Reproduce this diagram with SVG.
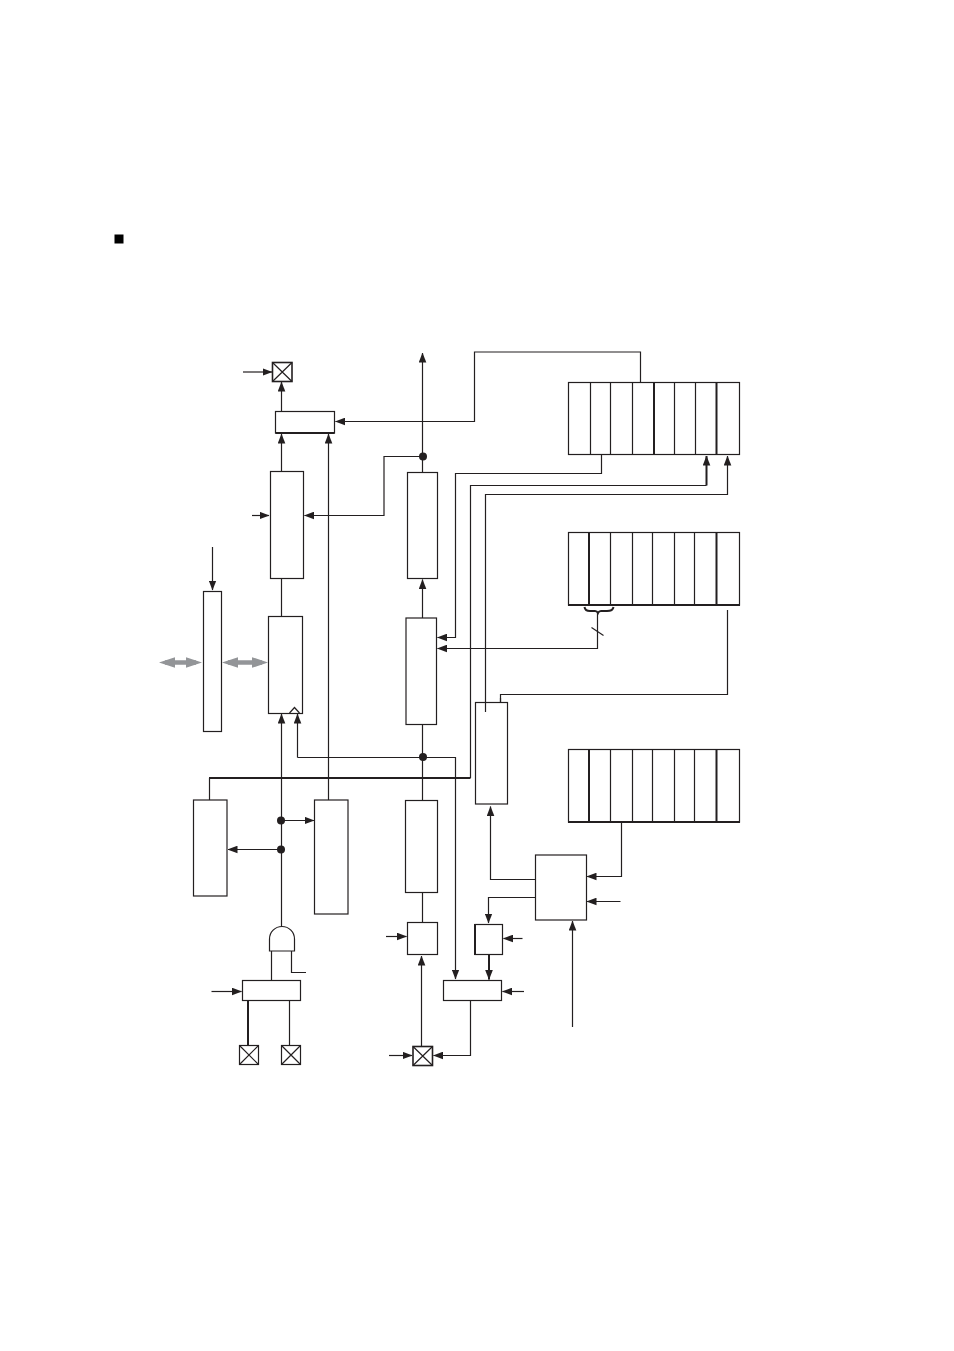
<svg xmlns="http://www.w3.org/2000/svg" width="954" height="1351" viewBox="0 0 954 1351">
<style>
.b{fill:#fff;stroke:#231f20;stroke-width:1.2}
.d{fill:none;stroke:#231f20;stroke-width:1.2}
.t{fill:none;stroke:#231f20;stroke-width:2}
.c{fill:none;stroke:#231f20;stroke-width:1.2;marker-end:url(#a)}
.e{fill:none;stroke:#231f20;stroke-width:2;marker-end:url(#a)}
.g{fill:none;stroke:#939598;stroke-width:4.500;marker-start:url(#h);marker-end:url(#h)}
.n{fill:#231f20}
</style>
<defs>
<marker id="a" markerUnits="userSpaceOnUse" markerWidth="10" markerHeight="8" refX="9.500" refY="4" orient="auto"><path d="M0 0.2L10 4L0 7.800Z" fill="#231f20"/></marker>
<marker id="h" markerUnits="userSpaceOnUse" markerWidth="17" markerHeight="11" refX="10" refY="5.500" orient="auto-start-reverse"><path d="M0 0.200L16 5.500L0 10.800Z" fill="#939598"/></marker>
</defs>
<rect id="bullet" x="114.500" y="234.500" width="9" height="9" fill="#000"/>
<g id="connectors">
<path class="c" d="M243 372H272"/>
<path class="c" d="M281.500 411V382"/>
<path class="c" d="M281.500 471V434"/>
<path class="c" d="M328.500 800V434"/>
<path class="c" d="M640.500 382V352H474.500V421.500H335.500"/>
<path class="c" d="M252 515.500H269"/>
<path class="c" d="M422.500 456.500H384V515.500H304.500"/>
<path class="c" d="M422.500 473V353"/>
<path class="c" d="M422.500 618V579.500"/>
<path class="c" d="M212.500 547V590"/>
<path class="g" d="M165 662.500H196"/>
<path class="g" d="M228 662.500H262"/>
<path class="d" d="M281.500 578V616"/>
<path class="c" d="M281.500 927V714"/>
<path class="c" d="M297.500 757.500V714"/>
<path class="c" d="M297.500 757.500H455.500V979"/>
<path class="t" d="M209 778H470.500"/>
<path class="d" d="M209.500 778V800"/>
<path class="d" d="M470.500 778V485.500H706.500"/>
<path class="e" d="M706.500 485.500V456"/>
<path class="c" d="M485.500 712V494.500H727.500V456"/>
<path class="c" d="M601.500 455V473.500H455.500V637.500H437.500"/>
<path class="c" d="M597.500 612V648.500H437.500"/>
<path class="d" style="stroke-width:2" d="M584.500 607C585 610 587 611 590 611H595C597 611 597.500 612 598 613C598.500 612 599 611 601 611H607C610 611 613 610 613.500 607"/>
<path class="d" d="M591.500 627.500L603.500 635.500"/>
<path class="d" d="M727.500 610V694.500H500.500V702"/>
<path class="c" d="M535.500 879.500H490.500V806.500"/>
<path class="c" d="M621.500 822V876.500H587"/>
<path class="c" d="M620.500 901.500H587"/>
<path class="c" d="M572.500 1027V921"/>
<path class="c" d="M535.500 897.500H488.500V923"/>
<path class="c" d="M522.500 938.500H503.500"/>
<path class="e" d="M489 954.500V979.500"/>
<path class="c" d="M524 991.500H502.500"/>
<path class="c" d="M470.500 1000.500V1055.500H433.500"/>
<path class="c" d="M389 1055.500H412"/>
<path class="c" d="M421.500 1046V956"/>
<path class="c" d="M386 936.500H406.500"/>
<path class="d" d="M422.500 892V922"/>
<path class="d" d="M422.500 724V800"/>
<path class="c" d="M281 820.500H314"/>
<path class="c" d="M281 849.500H228"/>
<path class="d" d="M271.500 951V980"/>
<path class="d" d="M291.500 951V972.500H306"/>
<path class="c" d="M211.500 991.500H241.500"/>
<path class="t" d="M248 1000.500V1045"/>
<path class="d" d="M289.500 1000.500V1045"/>
</g>
<g id="junctions">
<circle class="n" cx="423" cy="456.500" r="4"/>
<circle class="n" cx="423" cy="757" r="4"/>
<circle class="n" cx="281" cy="820.500" r="4"/>
<circle class="n" cx="281" cy="849.500" r="4"/>
</g>
<g id="pad-top"><rect class="b" style="stroke-width:1.600" x="272.500" y="362.500" width="19.500" height="19"/><path class="d" d="M272.500 362.500L292 381.500M292 362.500L272.500 381.500"/></g>
<g id="mux-out"><rect class="b" x="275.500" y="411.500" width="59" height="21.500"/><path class="d" d="M275.500 433H334.500" style="stroke-width:2"/></g>
<g id="box-out-latch"><rect class="b" x="270.500" y="471.500" width="33" height="107"/></g>
<g id="box-in-top"><rect class="b" x="407.500" y="472.500" width="30" height="106"/></g>
<g id="box-in-mid"><rect class="b" x="406" y="618" width="30.500" height="106.500"/></g>
<g id="box-bus"><rect class="b" x="203.500" y="591.500" width="18" height="140"/></g>
<g id="box-ff"><rect class="b" x="268.500" y="616.500" width="34" height="97"/><path class="d" d="M289.500 713L294.500 707.500L299.500 713"/></g>
<g id="box-left"><rect class="b" x="193.500" y="800" width="33.500" height="96"/></g>
<g id="box-mid-low"><rect class="b" x="314.500" y="800" width="33.500" height="114"/></g>
<g id="box-in-low"><rect class="b" x="405.500" y="800.500" width="32" height="92"/></g>
<g id="box-in-small"><rect class="b" x="407.500" y="922.500" width="30" height="32"/></g>
<g id="box-edge"><rect class="b" x="475.500" y="702.500" width="32" height="101.500"/><path class="d" d="M485.500 702.500V712"/><path class="d" d="M500.500 702.500V698"/></g>
<g id="box-ctrl"><rect class="b" x="535.500" y="855" width="51" height="65"/></g>
<g id="box-small"><rect class="b" x="475" y="924.500" width="27.500" height="30"/><path class="t" d="M475 924V955"/></g>
<g id="mux-right"><rect class="b" x="443.500" y="980.500" width="58" height="20"/></g>
<g id="and-gate"><path class="b" d="M269.500 951V939C269.500 932 275 926.500 282 926.500C289 926.500 294.500 932 294.500 939V951Z"/></g>
<g id="mux-left"><rect class="b" x="242.500" y="980.500" width="58" height="20"/></g>
<g id="pad-x0"><rect class="b" x="239.500" y="1045.500" width="19" height="19"/><path class="d" d="M239.500 1045.500L258.500 1064.500M258.500 1045.500L239.500 1064.500"/></g>
<g id="pad-x1"><rect class="b" x="281.500" y="1045.500" width="19" height="19"/><path class="d" d="M281.500 1045.500L300.500 1064.500M300.500 1045.500L281.500 1064.500"/></g>
<g id="pad-in"><rect class="b" style="stroke-width:1.600" x="413" y="1046.500" width="19.500" height="19"/><path class="d" d="M413 1046.500L432.500 1065.500M432.500 1046.500L413 1065.500"/></g>
<g id="reg-top"><rect class="b" x="568.500" y="382.500" width="171" height="72"/><path class="d" d="M590.500 382.500V455M610.500 382.500V455M632.500 382.500V455M674.500 382.500V455M695.500 382.500V455"/><path class="t" d="M654 382.500V455M716.500 382.500V455"/></g>
<g id="reg-mid"><rect class="b" x="568.500" y="532.500" width="171" height="72.500"/><path class="d" d="M610.500 532.500V605M632.500 532.500V605M652.500 532.500V605M674.500 532.500V605M694.500 532.500V605"/><path class="t" d="M589 532.500V605M716.500 532.500V605M568 605H740"/></g>
<g id="reg-low"><rect class="b" x="568.500" y="749.500" width="171" height="72.500"/><path class="d" d="M610.500 749.500V822M632.500 749.500V822M652.500 749.500V822M674.500 749.500V822M694.500 749.500V822"/><path class="t" d="M589 749.500V822M716.500 749.500V822M568 822H740"/></g>
</svg>
